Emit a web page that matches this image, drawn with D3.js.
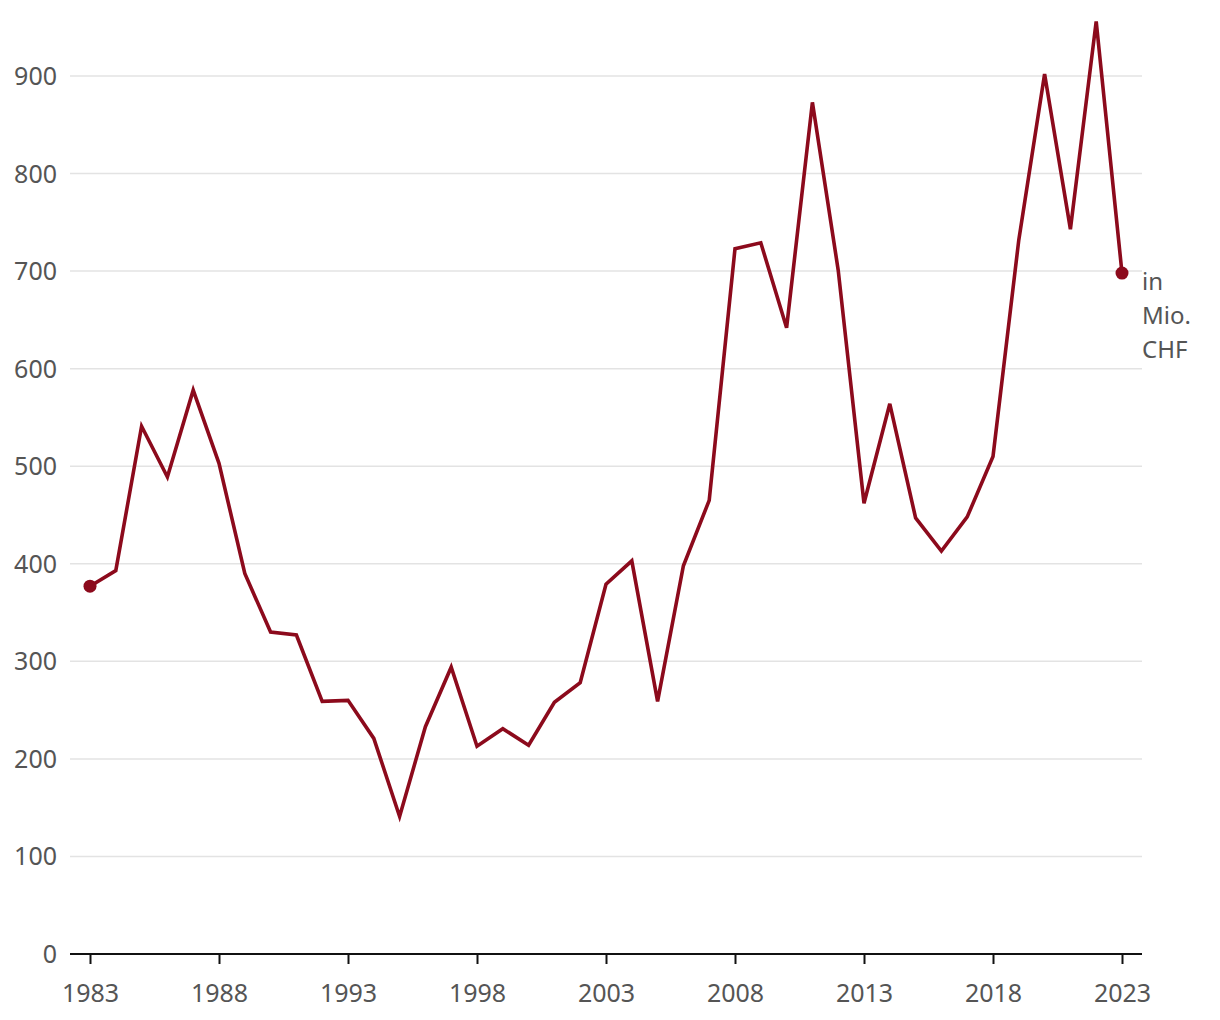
<!DOCTYPE html>
<html><head><meta charset="utf-8">
<script src="https://cdn.jsdelivr.net/npm/d3@7"></script>
<style>
body{margin:0;background:#fff;}
text{font-family:"Noto Sans","Open Sans",sans-serif;}
</style></head>
<body><svg id="c" width="1220" height="1020"></svg>
<script>
const years = d3.range(1983, 2024);
const values = [377,393,541,489,578,503,390,330,327,259,260,221,141,233,294,213,231,214,258,278,379,403,259,398,465,723,729,642,873,701,462,564,447,413,448,510,732,902,743,956,698];
const yTicks = [0,100,200,300,400,500,600,700,800,900];
const xTicks = [1983,1988,1993,1998,2003,2008,2013,2018,2023];
const unitLabel = ["in","Mio.","CHF"];

const svg = d3.select("#c");
const x = d3.scaleLinear().domain([1983,2023]).range([90,1122]);
const y = d3.scaleLinear().domain([0,900]).range([954,76]);
const gridLeft = 70, gridRight = 1142;
const fs = 25;

const data = years.map((yr,i)=>({yr, v: values[i]}));

// grid
svg.append("g").selectAll("line").data(yTicks.filter(d=>d>0)).join("line")
  .attr("x1",gridLeft).attr("x2",gridRight)
  .attr("y1",d=>y(d)).attr("y2",d=>y(d))
  .attr("stroke","#e3e3e3").attr("stroke-width",1.5);

// y labels
svg.append("g").selectAll("text").data(yTicks).join("text")
  .attr("x",57).attr("y",d=>y(d)).attr("dy","0.36em")
  .attr("text-anchor","end").attr("fill","#555").attr("font-size",fs)
  .text(d=>d);

// x axis
const xa = svg.append("g").attr("transform",`translate(0,${y(0)})`)
  .call(d3.axisBottom(x).tickValues(xTicks).tickFormat(d3.format("d")).tickSize(10).tickPadding(20));
xa.select(".domain").attr("d",`M${gridLeft},0H${gridRight}`).attr("stroke","#111").attr("stroke-width",2);
xa.selectAll(".tick line").attr("stroke","#111").attr("stroke-width",2);
xa.selectAll(".tick text").attr("fill","#555").attr("font-size",fs)
  .style("font-family",'"Noto Sans","Open Sans",sans-serif');

// line
const col = "#8c0a1c";
svg.append("path").datum(data)
  .attr("fill","none").attr("stroke",col).attr("stroke-width",3.6)
  .attr("stroke-linejoin","miter")
  .attr("d", d3.line().x(d=>x(d.yr)).y(d=>y(d.v)));

// end dots
svg.append("g").selectAll("circle").data([data[0], data[data.length-1]]).join("circle")
  .attr("cx",d=>x(d.yr)).attr("cy",d=>y(d.v)).attr("r",6.5).attr("fill",col);

// unit label
const last = data[data.length-1];
svg.append("text").attr("x",1142).attr("y",y(last.v)+17)
  .attr("fill","#555").attr("font-size",fs-1)
  .selectAll("tspan").data(unitLabel).join("tspan")
  .attr("x",1142).attr("dy",(d,i)=> i===0?0:34).text(d=>d);
</script></body></html>
